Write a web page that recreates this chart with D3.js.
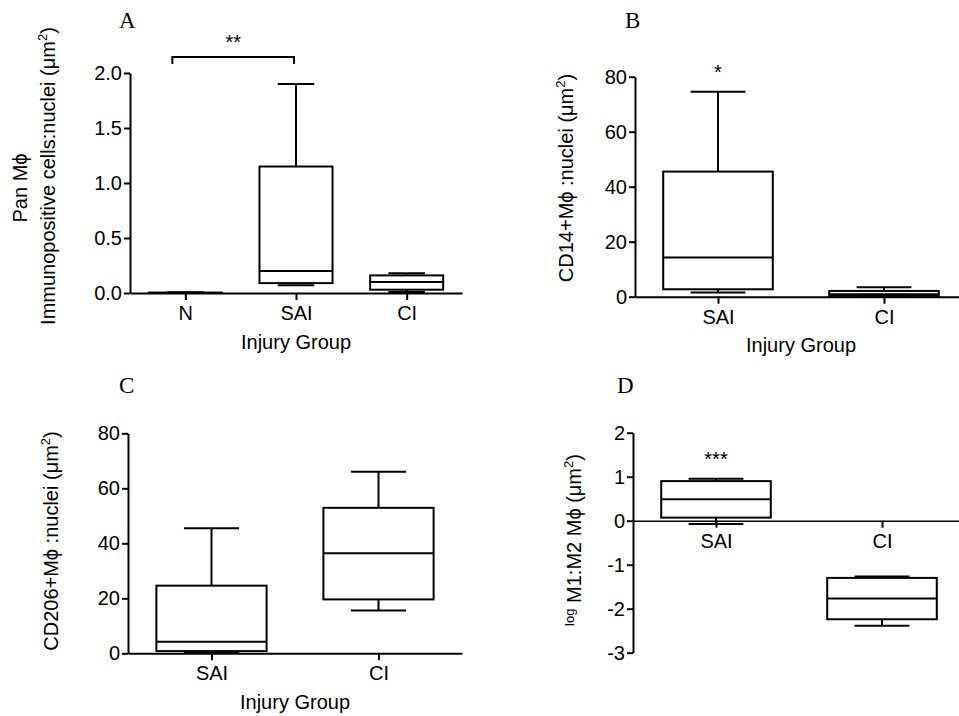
<!DOCTYPE html>
<html>
<head>
<meta charset="utf-8">
<script src="https://cdn.jsdelivr.net/npm/d3@7"></script>
<style>
  body { margin: 0; background: #fff; }
  svg { display: block; }
  text { font-family: "Liberation Sans", Arial, sans-serif; fill: #000; }
  text.letter { font-family: "Liberation Serif", "Times New Roman", serif; }
</style>
</head>
<body>
<svg width="959" height="716"></svg>
<script>
// values (min, Q1, median, Q3, max)
var groupsA = ["N", "SAI", "CI"];
var minA = [0, 0.07, 0.01];
var q1A  = [0, 0.09, 0.03];
var medA = [0, 0.20, 0.10];
var q3A  = [0.004, 1.15, 0.16];
var maxA = [0.006, 1.90, 0.18];
var ticksA = [0, 0.5, 1.0, 1.5, 2.0];

var groupsB = ["SAI", "CI"];
var minB = [1.5, 0];
var q1B  = [2.7, 0.3];
var medB = [14.3, 0.9];
var q3B  = [45.5, 2.1];
var maxB = [74.5, 3.4];
var ticksB = [0, 20, 40, 60, 80];

var groupsC = ["SAI", "CI"];
var minC = [0.3, 15.6];
var q1C  = [0.8, 19.6];
var medC = [4.2, 36.4];
var q3C  = [24.6, 52.9];
var maxC = [45.5, 66];
var ticksC = [0, 20, 40, 60, 80];

var groupsD = ["SAI", "CI"];
var minD = [-0.075, -2.39];
var q1D  = [0.07, -2.24];
var medD = [0.49, -1.77];
var q3D  = [0.90, -1.30];
var maxD = [0.955, -1.27];
var ticksD = [-3, -2, -1, 0, 1, 2];

var svg = d3.select("svg");
var fs = 20;

function styleAxis(sel, w) {
  sel.select(".domain").attr("stroke", "#000").attr("stroke-width", w);
  sel.selectAll(".tick line").attr("stroke", "#000").attr("stroke-width", 2);
  sel.selectAll(".tick text").attr("font-size", fs).attr("fill", "#000");
}

function ylabel(g, x, y, parts) {
  var t = g.append("text")
    .attr("transform", "translate(" + x + "," + y + ") rotate(-90)")
    .attr("text-anchor", "middle")
    .attr("font-size", 20);
  parts.forEach(function(p) {
    var s = t.append("tspan").text(p.t);
    if (p.size) s.attr("font-size", p.size);
    if (p.dy) s.attr("dy", p.dy);
  });
}

function panel(cfg) {
  var g = svg.append("g");
  var x = d3.scalePoint().domain(cfg.groups).range(cfg.xr).padding(0.5);
  var y = d3.scaleLinear().domain(cfg.yd).range(cfg.yr);
  var bw = x.step() * 0.66, cw = bw * 0.5;

  g.append("g")
    .attr("transform", "translate(" + cfg.xr[0] + ",0)")
    .call(d3.axisLeft(y).tickValues(cfg.ticks).tickFormat(cfg.fmt)
      .tickSize(6).tickSizeOuter(0).tickPadding(2))
    .call(styleAxis, 2);

  g.append("g")
    .attr("transform", "translate(0," + y(0) + ")")
    .call(d3.axisBottom(x).tickSize(7).tickSizeOuter(0).tickPadding(6))
    .call(styleAxis, cfg.xw || 2);

  cfg.groups.forEach(function(k, i) {
    var cx = x(k);
    var b = g.append("g").attr("fill", "none").attr("stroke", "#000").attr("stroke-width", 2);
    // whiskers
    b.append("line").attr("x1", cx).attr("x2", cx).attr("y1", y(cfg.q3[i])).attr("y2", y(cfg.max[i]));
    b.append("line").attr("x1", cx).attr("x2", cx).attr("y1", y(cfg.q1[i])).attr("y2", y(cfg.min[i]));
    b.append("line").attr("x1", cx - cw / 2).attr("x2", cx + cw / 2).attr("y1", y(cfg.max[i])).attr("y2", y(cfg.max[i]));
    b.append("line").attr("x1", cx - cw / 2).attr("x2", cx + cw / 2).attr("y1", y(cfg.min[i])).attr("y2", y(cfg.min[i]));
    // box
    b.append("rect").attr("x", cx - bw / 2).attr("width", bw)
      .attr("y", y(cfg.q3[i])).attr("height", Math.max(0, y(cfg.q1[i]) - y(cfg.q3[i])))
      .attr("fill", "#fff");
    b.append("line").attr("x1", cx - bw / 2).attr("x2", cx + bw / 2).attr("y1", y(cfg.med[i])).attr("y2", y(cfg.med[i]));
  });

  // panel letter
  g.append("text").attr("class", "letter")
    .attr("x", cfg.letterPos[0]).attr("y", cfg.letterPos[1])
    .attr("font-size", 23).text(cfg.letter);

  // x title
  if (cfg.xtitle) {
    g.append("text").attr("x", (cfg.xr[0] + cfg.xr[1]) / 2).attr("y", cfg.xtitleY)
      .attr("text-anchor", "middle").attr("font-size", fs).text(cfg.xtitle);
  }

  // stars
  (cfg.stars || []).forEach(function(s) {
    var i = cfg.groups.indexOf(s.group);
    g.append("text").attr("x", x(s.group)).attr("y", y(cfg.max[i]) - 13)
      .attr("text-anchor", "middle").attr("font-size", fs).text(s.text);
  });

  return {g: g, x: x, y: y};
}

var pA = panel({
  groups: groupsA, min: minA, q1: q1A, med: medA, q3: q3A, max: maxA,
  ticks: ticksA, fmt: d3.format(".1f"), yd: [0, 2], xr: [130, 462], yr: [293, 73],
  letter: "A", letterPos: [119, 28], xtitle: "Injury Group", xtitleY: 349
});
// significance bracket N vs SAI
var bx1 = pA.x("N") - 13, bx2 = pA.x("SAI") - 2, by = 57;
pA.g.append("path")
  .attr("d", "M" + bx1 + "," + (by + 7) + "V" + by + "H" + bx2 + "V" + (by + 7))
  .attr("fill", "none").attr("stroke", "#000").attr("stroke-width", 2);
pA.g.append("text").attr("x", (bx1 + bx2) / 2).attr("y", by - 8)
  .attr("text-anchor", "middle").attr("font-size", fs).text("**");
ylabel(pA.g, 27, 188, [{t: "Pan M\u03d5"}]);
ylabel(pA.g, 55, 176, [{t: "Immunopositive cells:nuclei (\u03bcm"}, {t: "2", size: 13, dy: -8}, {t: ")", dy: 8}]);

var pB = panel({
  groups: groupsB, min: minB, q1: q1B, med: medB, q3: q3B, max: maxB,
  ticks: ticksB, fmt: d3.format("d"), yd: [0, 80], xr: [635, 967], yr: [296.7, 76.7],
  letter: "B", letterPos: [625, 28], xtitle: "Injury Group", xtitleY: 352,
  stars: [{group: "SAI", text: "*"}]
});
ylabel(pB.g, 573, 178, [{t: "CD14+M\u03d5 :nuclei (\u03bcm"}, {t: "2", size: 13, dy: -8}, {t: ")", dy: 8}]);

var pC = panel({
  groups: groupsC, min: minC, q1: q1C, med: medC, q3: q3C, max: maxC,
  ticks: ticksC, fmt: d3.format("d"), yd: [0, 80], xr: [128, 462], yr: [653.3, 433.3],
  letter: "C", letterPos: [119, 393], xtitle: "Injury Group", xtitleY: 709
});
ylabel(pC.g, 58, 541, [{t: "CD206+M\u03d5 :nuclei (\u03bcm"}, {t: "2", size: 13, dy: -8}, {t: ")", dy: 8}]);

var pD = panel({
  groups: groupsD, min: minD, q1: q1D, med: medD, q3: q3D, max: maxD,
  ticks: ticksD, fmt: function(d) { return String(d); }, yd: [-3, 2], xr: [633, 965], yr: [652.7, 432.7],
  letter: "D", letterPos: [617, 393], xw: 1.6,
  stars: [{group: "SAI", text: "***"}]
});
ylabel(pD.g, 581, 540, [{t: "log", size: 13, dy: -7}, {t: " M1:M2 M\u03d5 (\u03bcm", dy: 7}, {t: "2", size: 13, dy: -8}, {t: ")", dy: 8}]);
</script>
</body>
</html>
